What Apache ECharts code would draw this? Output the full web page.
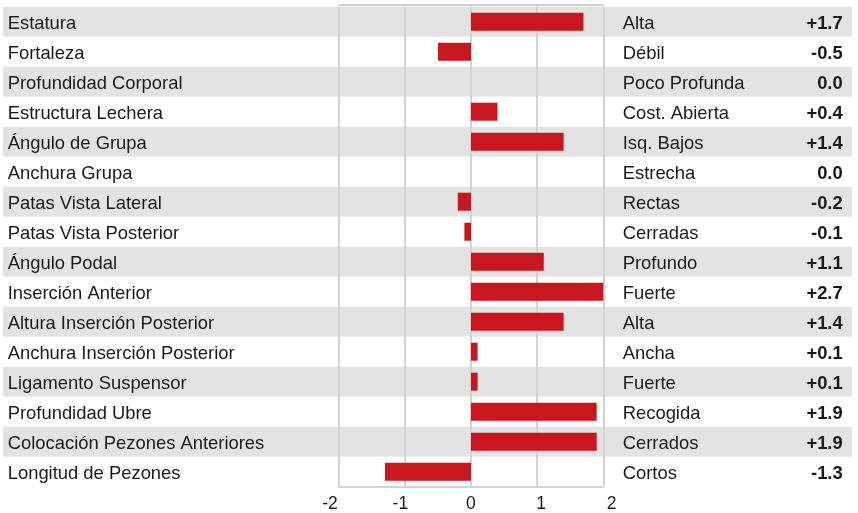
<!DOCTYPE html>
<html>
<head>
<meta charset="utf-8">
<script src="https://cdn.jsdelivr.net/npm/echarts@6/dist/echarts.min.js"></script>
<style>
  html, body { margin: 0; padding: 0; background: #fff; }
  #chart { width: 858px; height: 513px; }
</style>
</head>
<body>
<div id="chart"></div>
<script>
const traits = [
  'Estatura', 'Fortaleza', 'Profundidad Corporal', 'Estructura Lechera',
  'Ángulo de Grupa', 'Anchura Grupa', 'Patas Vista Lateral', 'Patas Vista Posterior',
  'Ángulo Podal', 'Inserción Anterior', 'Altura Inserción Posterior', 'Anchura Inserción Posterior',
  'Ligamento Suspensor', 'Profundidad Ubre', 'Colocación Pezones Anteriores', 'Longitud de Pezones'
];
const descriptors = [
  'Alta', 'Débil', 'Poco Profunda', 'Cost. Abierta',
  'Isq. Bajos', 'Estrecha', 'Rectas', 'Cerradas',
  'Profundo', 'Fuerte', 'Alta', 'Ancha',
  'Fuerte', 'Recogida', 'Cerrados', 'Cortos'
];
const values = [1.7, -0.5, 0.0, 0.4, 1.4, 0.0, -0.2, -0.1, 1.1, 2.7, 1.4, 0.1, 0.1, 1.9, 1.9, -1.3];
const xTicks = [-2, -1, 0, 1, 2];

function fmtVal(v) {
  return (v > 0 ? '+' : '') + v.toFixed(1);
}

const FONT = "'Liberation Sans', Arial, Helvetica, sans-serif";
const TEXT = '#1a1a1a';
const GRIDC = '#d3d3d3';
const FS = 18.4;

const chart = echarts.init(document.getElementById('chart'), null, { renderer: 'canvas' });

const option = {
  animation: false,
  backgroundColor: '#ffffff',
  textStyle: { fontFamily: FONT },
  grid: [
    // band grid (alternating row backgrounds)
    { left: 3, right: 6, top: 6.7, bottom: 26.3 },
    // main plot grid
    { left: 338.7, right: 254.7, top: 6.7, bottom: 26.3 },
    // tick label grid
    { left: 330, right: 246.5, top: 6.7, bottom: 26.3 }
  ],
  xAxis: [
    { gridIndex: 0, type: 'value', min: 0, max: 1, show: false },
    {
      gridIndex: 1, type: 'value', min: -2, max: 2, interval: 1, position: 'bottom', z: 1,
      axisLine: { show: true, onZero: false, lineStyle: { color: GRIDC, width: 2 } },
      axisTick: { show: false },
      axisLabel: { show: false },
      splitLine: { show: true, lineStyle: { color: GRIDC, width: 2 } }
    },
    {
      gridIndex: 1, type: 'value', min: -2, max: 2, interval: 1, position: 'top', offset: 1.5, z: 1,
      axisLine: { show: true, onZero: false, lineStyle: { color: GRIDC, width: 2 } },
      axisTick: { show: false },
      axisLabel: { show: false },
      splitLine: { show: false }
    },
    {
      gridIndex: 2, type: 'value', min: xTicks[0], max: xTicks[xTicks.length - 1], interval: 1,
      axisLine: { show: false }, axisTick: { show: false }, splitLine: { show: false },
      axisLabel: { show: true, color: TEXT, fontSize: 17.5, fontFamily: FONT, margin: 10 }
    }
  ],
  yAxis: [
    {
      gridIndex: 0, type: 'category', data: traits, inverse: true, z: 0,
      axisLine: { show: false }, axisTick: { show: false }, axisLabel: { show: false },
      splitLine: { show: false },
      splitArea: { show: true, areaStyle: { color: ['#e3e3e3', '#ffffff'] } }
    },
    {
      gridIndex: 1, type: 'category', data: traits, inverse: true, position: 'left', z: 1,
      axisLine: { show: false }, axisTick: { show: false }, splitLine: { show: false },
      axisLabel: {
        show: true, align: 'left', margin: 331, color: TEXT, fontSize: FS, fontFamily: FONT,
        padding: [4, 0, 0, 0],
        formatter: function (val, idx) {
          return '{a|' + traits[idx] + '}';
        },
        rich: {
          a: { align: 'left', fontSize: FS, color: TEXT, fontFamily: FONT }
        }
      }
    },
    {
      gridIndex: 1, type: 'category', data: descriptors, inverse: true, position: 'right', z: 1,
      axisLine: { show: false }, axisTick: { show: false }, splitLine: { show: false },
      axisLabel: {
        show: true, align: 'left', margin: 19.4, color: TEXT, fontSize: FS, fontFamily: FONT,
        padding: [4, 0, 0, 0],
        formatter: function (val, idx) {
          return '{a|' + descriptors[idx] + '}{b|' + fmtVal(values[idx]) + '}';
        },
        rich: {
          a: { width: 170, align: 'left', fontSize: FS, color: TEXT, fontFamily: FONT },
          b: { width: 50, align: 'right', fontSize: FS, fontWeight: 'bold', color: TEXT, fontFamily: FONT }
        }
      }
    },
    { gridIndex: 2, type: 'category', data: traits, inverse: true, show: false }
  ],
  series: [
    {
      type: 'bar',
      xAxisIndex: 1,
      yAxisIndex: 1,
      data: values,
      barWidth: '60%',
      clip: true,
      z: 2,
      itemStyle: { color: '#c8171f' }
    }
  ]
};

chart.setOption(option);
</script>
</body>
</html>
